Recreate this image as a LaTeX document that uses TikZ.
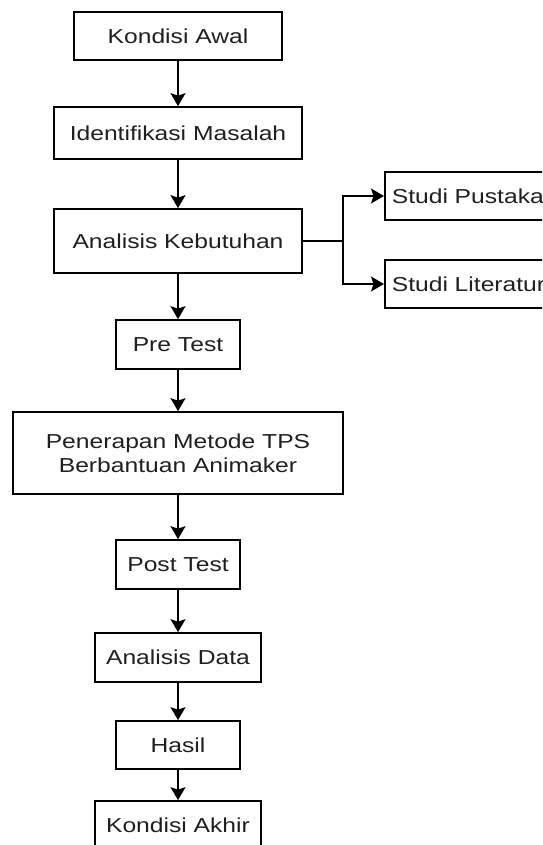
\documentclass[tikz,border=0pt]{standalone}
\usepackage{fontspec}
\setmainfont{Liberation Sans}[FakeStretch=1.22]
\usetikzlibrary{arrows.meta}
\begin{document}
\begin{tikzpicture}[x=1pt,y=-1pt,
  box/.style={draw=black, line width=1.7pt, inner sep=0pt, align=center,
    font=\fontsize{20.2}{24}\selectfont, text=black!88},
  conn/.style={line width=1.7pt, draw=black},
  arr/.style={conn, -{Stealth[length=13pt,width=15pt,inset=2.5pt]}}]
\useasboundingbox (0,0) rectangle (542,845);
\clip (0,0) rectangle (542,845);
\node[box, minimum width=208pt, minimum height=48pt] (ka) at (178,36) {Kondisi Awal};
\node[box, minimum width=248pt, minimum height=52pt] (im) at (178,133) {Identifikasi Masalah};
\node[box, minimum width=248pt, minimum height=64pt] (ak) at (178,241) {Analisis Kebutuhan};
\node[box, minimum width=124pt, minimum height=49pt] (pre) at (178,344.5) {Pre Test};
\node[box, minimum width=330pt, minimum height=82pt] (pen) at (178,453) {Penerapan Metode TPS\\Berbantuan Animaker};
\node[box, minimum width=124pt, minimum height=49pt] (post) at (178,564.5) {Post Test};
\node[box, minimum width=166pt, minimum height=49pt] (ad) at (178,657.5) {Analisis Data};
\node[box, minimum width=124pt, minimum height=48pt] (ha) at (178,745) {Hasil};
\node[box, minimum width=166pt, minimum height=48pt] (kk) at (178,825) {Kondisi Akhir};
\node[box, anchor=west, text width=160pt, align=left, inner xsep=7pt, minimum height=48pt] (sp) at (384,196) {Studi Pustaka};
\node[box, anchor=west, text width=160pt, align=left, inner xsep=7pt, minimum height=48pt] (sl) at (384,284) {Studi Literatur};
\coordinate (br) at (343,241);
\draw[arr] (ka) -- (im);
\draw[arr] (im) -- (ak);
\draw[arr] (ak) -- (pre);
\draw[arr] (pre) -- (pen);
\draw[arr] (pen) -- (post);
\draw[arr] (post) -- (ad);
\draw[arr] (ad) -- (ha);
\draw[arr] (ha) -- (kk);
\draw[conn] (ak.east) -- (br);
\draw[arr] (br) |- (sp.west);
\draw[arr] (br) |- (sl.west);
\end{tikzpicture}
\end{document}
